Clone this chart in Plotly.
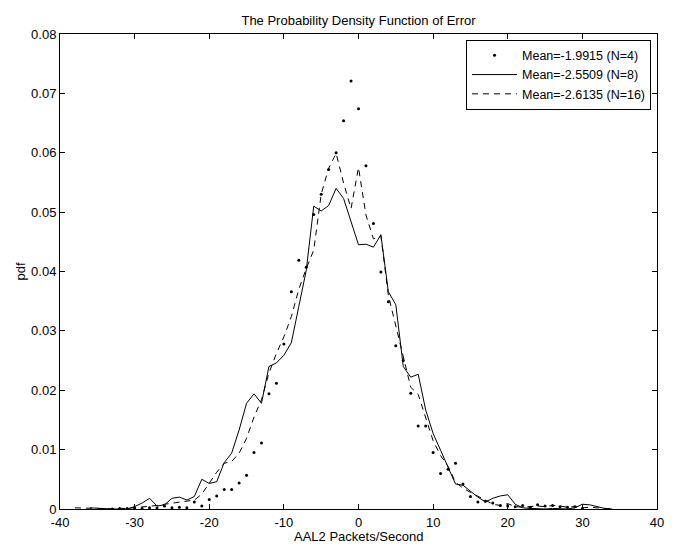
import plotly.graph_objects as go

# bin centres (AAL2 packets/second) and pdf values
x_n4 = list(range(-33, 31))
pdf_n4 = [0.0000, 0.0001, 0.0001, 0.0002, 0.0001, 0.0002, 0.0002, 0.0005, 0.0002, 0.0003,
          0.0002, 0.0012, 0.0005, 0.0016, 0.0022, 0.0033, 0.0033, 0.0044, 0.0057, 0.0095,
          0.0111, 0.0194, 0.0212, 0.0278, 0.0366, 0.0419, 0.0407, 0.0496, 0.0530, 0.0572,
          0.0600, 0.0654, 0.0721, 0.0674, 0.0578, 0.0481, 0.0399, 0.0349, 0.0275, 0.0250,
          0.0195, 0.0140, 0.0140, 0.0095, 0.0060, 0.0067, 0.0077, 0.0042, 0.0021, 0.0012,
          0.0013, 0.0010, 0.0006, 0.0005, 0.0004, 0.0006, 0.0003, 0.0007, 0.0005, 0.0006,
          0.0004, 0.0003, 0.0004, 0.0001]

x_n8 = list(range(-36, 35))
pdf_n8 = [0.0002, 0.0001, 0.0000, 0.0000, 0.0000, 0.0000, 0.0004, 0.0010, 0.0018, 0.0005,
          0.0007, 0.0018, 0.0020, 0.0015, 0.0021, 0.0050, 0.0043, 0.0046, 0.0078, 0.0094,
          0.0133, 0.0178, 0.0194, 0.0178, 0.0240, 0.0246, 0.0259, 0.0280, 0.0341, 0.0402,
          0.0510, 0.0502, 0.0511, 0.0540, 0.0523, 0.0484, 0.0445, 0.0446, 0.0441, 0.0462,
          0.0366, 0.0344, 0.0240, 0.0222, 0.0227, 0.0167, 0.0127, 0.0099, 0.0071, 0.0042,
          0.0040, 0.0030, 0.0020, 0.0012, 0.0018, 0.0022, 0.0024, 0.0008, 0.0002, 0.0001,
          0.0000, 0.0000, 0.0001, 0.0001, 0.0000, 0.0002, 0.0008, 0.0007, 0.0004, 0.0001,
          0.0000]

x_n16 = list(range(-38, 35))
pdf_n16 = [0.0002, 0.0002, 0.0001, 0.0001, 0.0000, 0.0001, 0.0001, 0.0001, 0.0002, 0.0004,
           0.0004, 0.0006, 0.0008, 0.0010, 0.0012, 0.0013, 0.0015, 0.0025, 0.0043, 0.0062,
           0.0077, 0.0080, 0.0094, 0.0119, 0.0155, 0.0184, 0.0229, 0.0262, 0.0290, 0.0324,
           0.0370, 0.0405, 0.0436, 0.0530, 0.0574, 0.0599, 0.0549, 0.0506, 0.0575, 0.0495,
           0.0455, 0.0460, 0.0360, 0.0310, 0.0260, 0.0205, 0.0193, 0.0155, 0.0115, 0.0090,
           0.0072, 0.0045, 0.0035, 0.0028, 0.0022, 0.0015, 0.0008, 0.0006, 0.0009, 0.0004,
           0.0003, 0.0004, 0.0005, 0.0004, 0.0006, 0.0005, 0.0003, 0.0004, 0.0002, 0.0003,
           0.0002, 0.0001, 0.0000]

names = ["Mean=-1.9915 (N=4)", "Mean=-2.5509 (N=8)", "Mean=-2.6135 (N=16)"]
x_ticks = [-40, -30, -20, -10, 0, 10, 20, 30, 40]
x_tick_text = ["-40", "-30", "-20", "-10", "0", "10", "20", "30", "40"]
y_ticks = [0, 0.01, 0.02, 0.03, 0.04, 0.05, 0.06, 0.07, 0.08]
y_tick_text = ["0", "0.01", "0.02", "0.03", "0.04", "0.05", "0.06", "0.07", "0.08"]

FONT = "Liberation Sans, Arial, sans-serif"

fig = go.Figure()
fig.add_trace(go.Scatter(x=x_n4, y=pdf_n4, mode="markers", name=names[0],
                         marker=dict(symbol="circle", size=3, color="black")))
fig.add_trace(go.Scatter(x=x_n8, y=pdf_n8, mode="lines", name=names[1],
                         line=dict(color="black", width=1)))
fig.add_trace(go.Scatter(x=x_n16, y=pdf_n16, mode="lines", name=names[2],
                         line=dict(color="black", width=1, dash="6px,5px")))

axis_common = dict(showline=True, linecolor="black", linewidth=1, mirror="ticks",
                   ticks="inside", ticklen=5, tickcolor="black", showgrid=False,
                   zeroline=False, tickfont=dict(family=FONT, size=13, color="black"))

fig.update_layout(
    width=674, height=545,
    margin=dict(l=60, r=10, t=34, b=36),
    paper_bgcolor="white", plot_bgcolor="white",
    font=dict(family=FONT, size=13, color="black"),
    title=dict(text="The Probability Density Function of Error", x=0.5, xref="paper",
               xanchor="center", y=1 - 20 / 545, yref="container", yanchor="middle",
               font=dict(family=FONT, size=13, color="black")),
    xaxis=dict(range=[-40, 40], tickvals=x_ticks, ticktext=x_tick_text,
               ticklabelstandoff=1, **axis_common),
    yaxis=dict(range=[0, 0.08], tickvals=y_ticks, ticktext=y_tick_text,
               **axis_common),
    legend=dict(x=0.99, xanchor="right", y=0.988, yanchor="top",
                bgcolor="white", bordercolor="black", borderwidth=1,
                font=dict(family=FONT, size=12.5, color="black"),
                itemwidth=45, tracegroupgap=0),
    showlegend=True,
    annotations=[
        dict(text="AAL2 Packets/Second", xref="paper", yref="paper", x=0.5, y=0,
             xanchor="center", yanchor="middle", yshift=-27, showarrow=False,
             font=dict(family=FONT, size=13, color="black")),
        dict(text="pdf", xref="paper", yref="paper", x=0, y=0.5,
             xanchor="center", yanchor="middle", xshift=-40, textangle=-90,
             showarrow=False, font=dict(family=FONT, size=13, color="black")),
    ],
)

fig.write_html("out.html",
               config={"displayModeBar": False},
               post_script="document.body.style.margin='0';document.body.style.overflow='hidden';")
